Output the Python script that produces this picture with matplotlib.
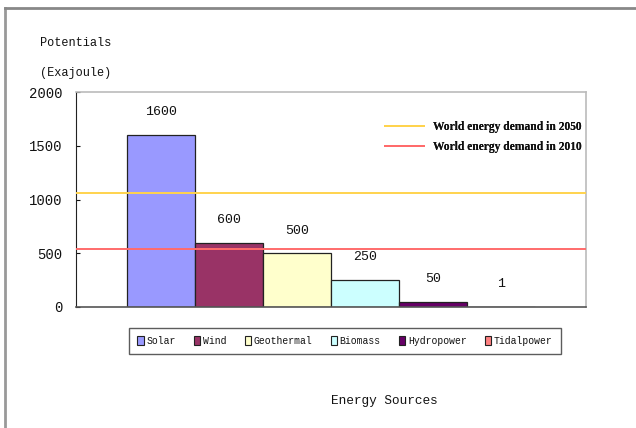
import matplotlib
matplotlib.use("Agg")
import matplotlib.pyplot as plt
from matplotlib.lines import Line2D
from matplotlib.patches import Patch

# Energy source potentials (Exajoule)
sources = ["Solar", "Wind", "Geothermal", "Biomass", "Hydropower", "Tidalpower"]
potentials = [1600, 600, 500, 250, 50, 1]
bar_colors = ["#9999FF", "#993366", "#FFFFCC", "#CCFFFF", "#660066", "#FF8080"]

# World energy demand reference levels (Exajoule)
demand_labels = ["World energy demand in 2050", "World energy demand in 2010"]
demand_values = [1065, 540]
demand_colors = ["#FFD34D", "#FF6B6B"]

yticks = [0, 500, 1000, 1500, 2000]

mono = "Liberation Mono"
serif = "Liberation Serif"
ink = "#111111"

fig = plt.figure(figsize=(6.36, 4.28), dpi=100)
ax = fig.add_axes([76 / 636, 1 - 307 / 428, 510 / 636, 215 / 428])

x = list(range(len(sources)))
ax.bar(x, potentials, width=1.0, color=bar_colors,
       edgecolor="#222222", linewidth=0.9, zorder=2)

for xi, v in zip(x, potentials):
    ax.annotate(str(v), (xi, v), xytext=(0, 12), textcoords="offset points",
                ha="center", va="bottom", fontsize=9.5, family=mono,
                color=ink)

line_handles = []
for lbl, v, c in zip(demand_labels, demand_values, demand_colors):
    ax.axhline(v, color=c, linewidth=1.4, zorder=3)
    line_handles.append(Line2D([], [], color=c, linewidth=1.4, label=lbl))

ax.set_xlim(-1.257, 6.243)
ax.set_ylim(0, 2000)
ax.set_yticks(yticks)
ax.set_yticklabels([str(t) for t in yticks], family=mono, fontsize=10)
ax.set_xticks([])
ax.tick_params(axis="y", direction="in", length=3, pad=10, colors=ink)

for s in ("top", "right"):
    ax.spines[s].set_color("#BBBBBB")
    ax.spines[s].set_linewidth(1.2)
ax.spines["left"].set_color("#222222")
ax.spines["bottom"].set_color("#555555")
ax.spines["bottom"].set_linewidth(1.2)

leg1 = ax.legend(handles=line_handles, loc="upper right",
                 bbox_to_anchor=(1.012, 0.915), frameon=False,
                 prop={"family": serif, "weight": "bold", "size": 8.3},
                 handlelength=3.4, handletextpad=0.8, labelspacing=0.75)
for t in leg1.get_texts():
    t.set_color(ink)
ax.add_artist(leg1)

patch_handles = [Patch(facecolor=c, edgecolor="#222222", linewidth=0.8, label=s)
                 for s, c in zip(sources, bar_colors)]
leg2 = fig.legend(handles=patch_handles, loc="center",
                  bbox_to_anchor=(345 / 636, 1 - 341 / 428), ncol=6,
                  frameon=True, fancybox=False, edgecolor="#333333",
                  prop={"family": mono, "size": 7},
                  handlelength=0.65, handleheight=1.0, handletextpad=0.25,
                  columnspacing=1.9, borderpad=0.85)
for t in leg2.get_texts():
    t.set_color(ink)

fig.text(40 / 636, 1 - 43 / 428, "Potentials", family=mono, fontsize=8.6,
         va="center", ha="left", color=ink)
fig.text(40 / 636, 1 - 73 / 428, "(Exajoule)", family=mono, fontsize=8.6,
         va="center", ha="left", color=ink)
fig.text(384 / 636, 1 - 401 / 428, "Energy Sources", family=mono, fontsize=9.2,
         va="center", ha="center", color=ink)

# outer chart border (left and top edges)
fig.add_artist(Line2D([5 / 636, 5 / 636], [0, 1 - 8 / 428],
                      color="#999999", linewidth=2, transform=fig.transFigure))
fig.add_artist(Line2D([5 / 636, 1], [1 - 8 / 428, 1 - 8 / 428],
                      color="#888888", linewidth=2, transform=fig.transFigure))

fig.savefig("out.png", dpi=100)
